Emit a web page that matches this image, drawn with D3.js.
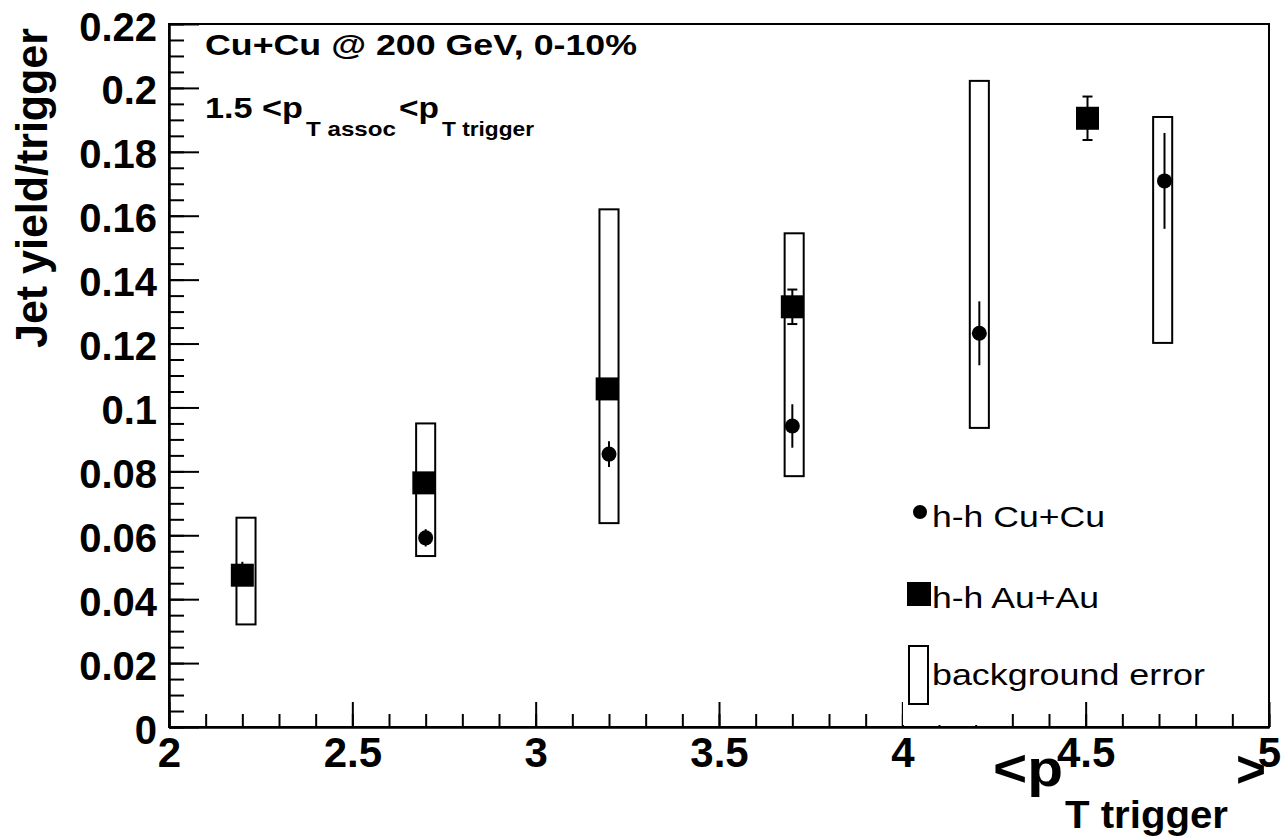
<!DOCTYPE html>
<html>
<head>
<meta charset="utf-8"/>
<style>
  body { margin: 0; background: #fff; }
  text { font-family: "Liberation Sans", Arial, Helvetica, sans-serif; fill: #000; }
</style>
</head>
<body>
<script src="https://d3js.org/d3.v7.min.js"></script>
<script>
var width = 1281, height = 839;

// background error boxes (low / high edge)
var bgX   = [2.21, 2.70, 3.20, 3.705, 4.21, 4.71];
var bgLo  = [0.0321, 0.0535, 0.0638, 0.0785, 0.0936, 0.1202];
var bgHi  = [0.0655, 0.0950, 0.1620, 0.1545, 0.2022, 0.1909];

// h-h Cu+Cu
var cuX   = [2.20, 2.70, 3.20, 3.70, 4.21, 4.715];
var cuY   = [0.0480, 0.0592, 0.0854, 0.0942, 0.1232, 0.1709];
var cuErr = [0.0037, 0.0027, 0.0040, 0.0068, 0.0100, 0.0150];

// h-h Au+Au
var auX   = [2.20, 2.695, 3.195, 3.70, 4.505];
var auY   = [0.0475, 0.0764, 0.1058, 0.1315, 0.1905];
var auErr = [0.0020, 0.0020, 0.0020, 0.0054, 0.0068];

var xTicks  = [2, 2.5, 3, 3.5, 4, 4.5, 5];
var xLabels = ["2", "2.5", "3", "3.5", "4", "4.5", "5"];
var yTicks  = [0, 0.02, 0.04, 0.06, 0.08, 0.1, 0.12, 0.14, 0.16, 0.18, 0.2, 0.22];
var yLabels = ["0", "0.02", "0.04", "0.06", "0.08", "0.1", "0.12", "0.14", "0.16", "0.18", "0.2", "0.22"];

var svg = d3.select("body").append("svg")
    .attr("width", width)
    .attr("height", height);

var x = d3.scaleLinear().domain([2, 5]).range([169, 1269]);
var y = d3.scaleLinear().domain([0, 0.22]).range([727, 24]);

// minor ticks
var xMinor = d3.range(20, 51).map(function(d){ return d / 10; });
var yMinor = d3.range(0, 45).map(function(d){ return d * 0.005; });

svg.append("g").attr("transform", "translate(0,727)")
   .call(d3.axisBottom(x).tickValues(xMinor).tickSize(-13).tickSizeOuter(0).tickFormat(""));
svg.append("g").attr("transform", "translate(169,0)")
   .call(d3.axisLeft(y).tickValues(yMinor).tickSize(-15).tickSizeOuter(0).tickFormat(""));

var xAxis = svg.append("g").attr("transform", "translate(0,727)")
   .call(d3.axisBottom(x).tickValues(xTicks).tickSize(-25).tickSizeOuter(0).tickPadding(10)
        .tickFormat(function(d, i){ return xLabels[i]; }));
var yAxis = svg.append("g").attr("transform", "translate(169,0)")
   .call(d3.axisLeft(y).tickValues(yTicks).tickSize(-30).tickSizeOuter(0).tickPadding(12)
        .tickFormat(function(d, i){ return yLabels[i]; }));

svg.selectAll(".domain, .tick line").attr("stroke", "#000").attr("stroke-width", 2);
xAxis.selectAll("text").attr("font-size", 42).attr("font-weight", "bold")
     .attr("font-family", "Liberation Sans, Arial, sans-serif");
yAxis.selectAll("text").attr("font-size", 40).attr("font-weight", "bold")
     .attr("font-family", "Liberation Sans, Arial, sans-serif").attr("dy", "0.4em");

// frame
svg.append("rect")
   .attr("x", x(2)).attr("y", y(0.22))
   .attr("width", x(5) - x(2)).attr("height", y(0) - y(0.22))
   .attr("fill", "none").attr("stroke", "#000").attr("stroke-width", 2);

// background error boxes
var hw = 0.026;
svg.selectAll("rect.bg").data(bgX).enter().append("rect")
   .attr("class", "bg")
   .attr("x", function(d){ return x(d - hw); })
   .attr("width", function(d){ return x(d + hw) - x(d - hw); })
   .attr("y", function(d, i){ return y(bgHi[i]); })
   .attr("height", function(d, i){ return y(bgLo[i]) - y(bgHi[i]); })
   .attr("fill", "none").attr("stroke", "#000").attr("stroke-width", 2);

// Cu+Cu error bars and circles
svg.selectAll("line.cuerr").data(cuX).enter().append("line")
   .attr("x1", function(d){ return x(d); }).attr("x2", function(d){ return x(d); })
   .attr("y1", function(d, i){ return y(cuY[i] - cuErr[i]); })
   .attr("y2", function(d, i){ return y(cuY[i] + cuErr[i]); })
   .attr("stroke", "#000").attr("stroke-width", 2);
svg.selectAll("circle.cu").data(cuX).enter().append("circle")
   .attr("cx", function(d){ return x(d); })
   .attr("cy", function(d, i){ return y(cuY[i]); })
   .attr("r", 7.5).attr("fill", "#000");

// Au+Au error bars with caps and squares
var au = svg.selectAll("g.au").data(auX).enter().append("g");
au.append("line")
   .attr("x1", function(d){ return x(d); }).attr("x2", function(d){ return x(d); })
   .attr("y1", function(d, i){ return y(auY[i] - auErr[i]); })
   .attr("y2", function(d, i){ return y(auY[i] + auErr[i]); })
   .attr("stroke", "#000").attr("stroke-width", 2);
[-1, 1].forEach(function(s){
  au.append("line")
     .attr("x1", function(d){ return x(d) - 5; }).attr("x2", function(d){ return x(d) + 5; })
     .attr("y1", function(d, i){ return y(auY[i] + s * auErr[i]); })
     .attr("y2", function(d, i){ return y(auY[i] + s * auErr[i]); })
     .attr("stroke", "#000").attr("stroke-width", 2);
});
au.append("rect")
   .attr("x", function(d){ return x(d) - 11.5; })
   .attr("y", function(d, i){ return y(auY[i]) - 11.5; })
   .attr("width", 23).attr("height", 23).attr("fill", "#000");

// legend
svg.append("rect").attr("x", 903).attr("y", 480).attr("width", 95).attr("height", 245).attr("fill", "#fff");
svg.append("circle").attr("cx", 920).attr("cy", 512).attr("r", 7).attr("fill", "#000");
svg.append("rect").attr("x", 907).attr("y", 582).attr("width", 24).attr("height", 24).attr("fill", "#000");
svg.append("rect").attr("x", 909).attr("y", 646).attr("width", 19).attr("height", 58)
   .attr("fill", "none").attr("stroke", "#000").attr("stroke-width", 2);
var leg = [["h-h Cu+Cu", 527, 173], ["h-h Au+Au", 608, 167], ["background error", 685, 273]];
leg.forEach(function(l){
  svg.append("text").attr("x", 932).attr("y", l[1]).attr("font-size", 30)
     .attr("textLength", l[2]).attr("lengthAdjust", "spacingAndGlyphs").text(l[0]);
});

// labels inside the frame
function txt(s, px, py, size, len) {
  return svg.append("text").attr("x", px).attr("y", py).attr("font-size", size)
     .attr("font-weight", "bold").attr("textLength", len)
     .attr("lengthAdjust", "spacingAndGlyphs").text(s);
}
txt("Cu+Cu @ 200 GeV, 0-10%", 205, 55, 30, 432);
txt("1.5 <p", 205, 118, 30, 98);
txt("T assoc", 306, 136, 21, 90);
txt("<p", 399, 118, 30, 40);
txt("T trigger", 442, 136, 21, 92);

// x axis title
txt("<p", 993, 786, 52, 70);
txt("T trigger", 1065, 828, 38, 163);
txt(">", 1236, 787, 52, 30);

// y axis title
svg.append("text")
   .attr("transform", "translate(47,348) rotate(-90)")
   .attr("font-size", 44).attr("font-weight", "bold")
   .attr("textLength", 320).attr("lengthAdjust", "spacingAndGlyphs")
   .text("Jet yield/trigger");
</script>
</body>
</html>
